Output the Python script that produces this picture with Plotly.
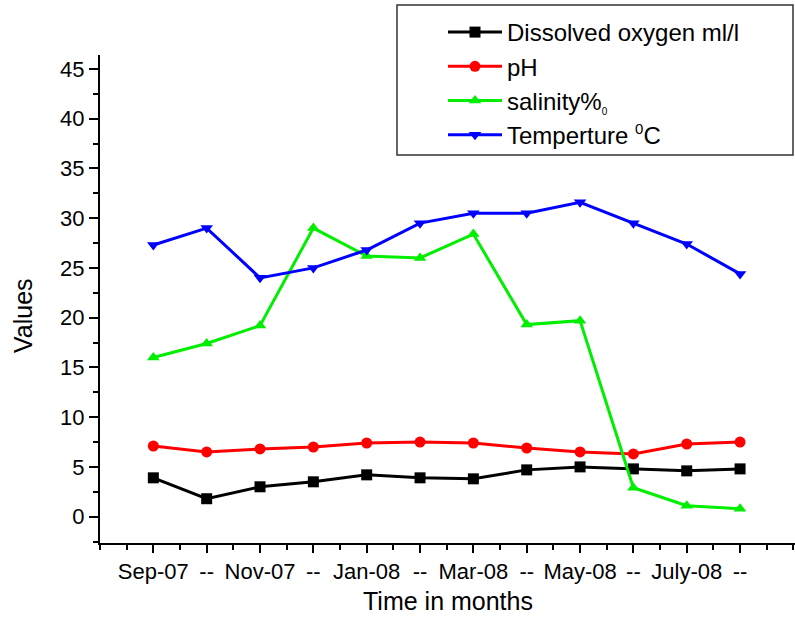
import plotly.graph_objects as go

months = ["Sep-07", "--", "Nov-07", "--", "Jan-08", "--", "Mar-08", "--",
          "May-08", "--", "July-08", "--"]
dissolved_oxygen = [3.9, 1.8, 3.0, 3.5, 4.2, 3.9, 3.8, 4.7, 5.0, 4.8, 4.6, 4.8]
ph = [7.1, 6.5, 6.8, 7.0, 7.4, 7.5, 7.4, 6.9, 6.5, 6.3, 7.3, 7.5]
salinity = [16.0, 17.4, 19.2, 29.0, 26.2, 26.0, 28.4, 19.3, 19.7, 2.9, 1.1, 0.8]
temperature = [27.3, 29.0, 24.0, 25.0, 26.8, 29.5, 30.5, 30.5, 31.6, 29.5, 27.4, 24.4]

FONT = "Liberation Sans, Arial, sans-serif"
x = list(range(len(months)))

# plot area in pixels: left 100, right 795, top 55, bottom 543
W, H = 795, 618
L, R, T, B = 100, 0, 55, 75
PW, PH = W - L - R, H - T - B


def px_x(p):
    return (p - L) / PW


def px_y(p):
    return (H - B - p) / PH


series = [
    ("Dissolved oxygen ml/l", dissolved_oxygen, "#000000", "square"),
    ("pH", ph, "#ff0000", "circle"),
    ("salinity%<sub><span style='font-size:10px'>0</span></sub>", salinity, "#00ee00", "triangle-up"),
    ("Temperture <sup><span style='font-size:15px'>0</span></sup>C", temperature, "#0000ff", "triangle-down"),
]

fig = go.Figure()
for name, vals, color, sym in series:
    fig.add_trace(go.Scatter(
        x=x, y=vals, name=name, mode="lines+markers",
        line=dict(color=color, width=3),
        marker=dict(symbol=sym, size=11, color=color),
    ))

fig.update_layout(
    width=W, height=H,
    margin=dict(l=L, r=R, t=T, b=B, autoexpand=False),
    paper_bgcolor="white", plot_bgcolor="white",
    font=dict(family=FONT, color="black", size=22),
    legend=dict(
        x=px_x(443), y=px_y(10), xanchor="left", yanchor="top",
        borderwidth=0, bgcolor="rgba(0,0,0,0)",
        font=dict(size=24, family=FONT), tracegroupgap=0, itemwidth=54,
    ),
    showlegend=True,
    shapes=[dict(
        type="rect", xref="paper", yref="paper",
        x0=px_x(397), x1=px_x(793), y0=px_y(155), y1=px_y(5),
        line=dict(color="#333333", width=1.5), fillcolor="white", layer="above",
    )],
    annotations=[
        dict(text="Values", xref="paper", yref="paper", x=px_x(23), y=px_y(316),
             textangle=-90, showarrow=False, xanchor="center", yanchor="middle",
             font=dict(size=25, family=FONT)),
        dict(text="Time in months", xref="paper", yref="paper", x=px_x(448), y=px_y(601),
             showarrow=False, xanchor="center", yanchor="middle",
             font=dict(size=25, family=FONT)),
    ],
)

fig.update_xaxes(
    range=[-1, 12.03], tickvals=x, ticktext=months,
    showline=True, linecolor="black", linewidth=2, showgrid=False, zeroline=False,
    ticks="outside", ticklen=8, tickwidth=2, tickcolor="black",
    minor=dict(ticks="outside", dtick=0.5, tick0=-1, ticklen=5, tickwidth=2, tickcolor="black"),
    tickfont=dict(size=22, family=FONT),
    automargin=False,
)
fig.update_yaxes(
    range=[-2.65, 46.4], tickvals=[0, 5, 10, 15, 20, 25, 30, 35, 40, 45],
    showline=True, linecolor="black", linewidth=2, showgrid=False, zeroline=False,
    ticks="outside", ticklen=9, tickwidth=2, tickcolor="black",
    minor=dict(ticks="outside", dtick=2.5, tick0=0, ticklen=5, tickwidth=2, tickcolor="black"),
    tickfont=dict(size=22, family=FONT),
    automargin=False,
)

fig.write_html("out.html")
